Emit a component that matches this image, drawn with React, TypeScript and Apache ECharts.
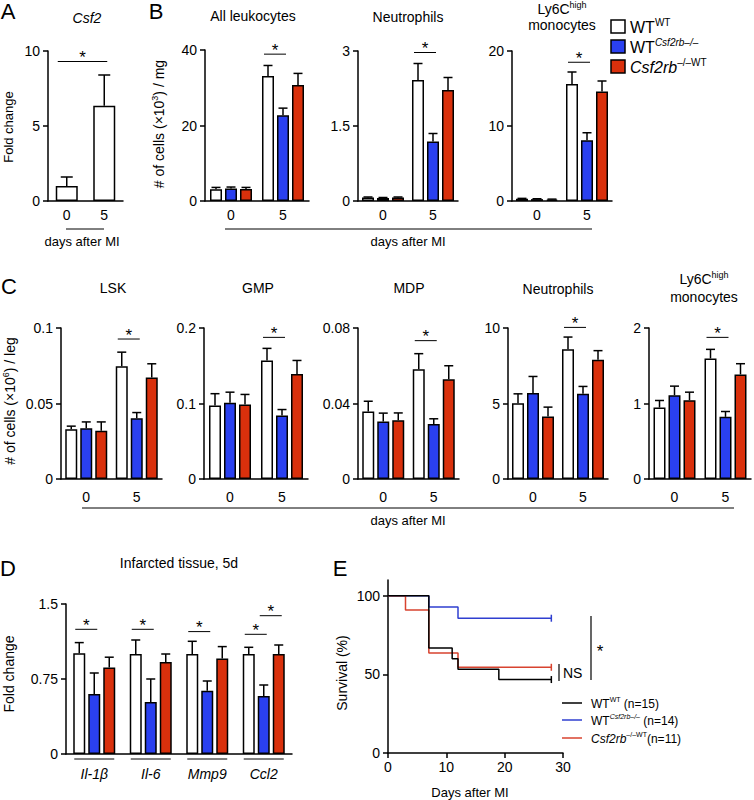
import React, { useEffect, useRef } from "react";
import * as echarts from "echarts";

const FONT = '"Liberation Sans", Arial, Helvetica, sans-serif';
const BLACK = "#000000";
const C_WT = "#ffffff";
const C_KO = "#2a40f0";
const C_REV = "#d9300c";
const L_KO = "#2f3fd0";
const L_REV = "#d8432f";

// ---------- categories ----------
const dayLabels = ["0", "5"];
const geneLabels = ["Il-1β", "Il-6", "Mmp9", "Ccl2"];

// ---------- A: Csf2 fold change ----------
const csf2Mean = [1.0, 6.35];
const csf2Err = [0.6, 2.05];

// ---------- B: infarct leukocytes (x10^3 / mg) ----------
const leukWT = [3.1, 33.1];
const leukWTErr = [0.5, 2.8];
const leukKO = [3.3, 22.7];
const leukKOErr = [0.4, 1.9];
const leukRev = [3.2, 30.7];
const leukRevErr = [0.4, 3.1];

const neutWT = [0.07, 2.42];
const neutWTErr = [0.01, 0.33];
const neutKO = [0.06, 1.19];
const neutKOErr = [0.01, 0.16];
const neutRev = [0.07, 2.22];
const neutRevErr = [0.01, 0.25];

const monoWT = [0.3, 15.6];
const monoWTErr = [0.05, 1.6];
const monoKO = [0.25, 8.1];
const monoKOErr = [0.05, 1.0];
const monoRev = [0.2, 14.6];
const monoRevErr = [0.05, 1.4];

// ---------- C: bone marrow (x10^6 / leg) ----------
const lskWT = [0.033, 0.0746];
const lskWTErr = [0.002, 0.0094];
const lskKO = [0.0336, 0.0403];
const lskKOErr = [0.0042, 0.0037];
const lskRev = [0.032, 0.0673];
const lskRevErr = [0.0058, 0.009];

const gmpWT = [0.0973, 0.157];
const gmpWTErr = [0.0157, 0.016];
const gmpKO = [0.101, 0.084];
const gmpKOErr = [0.014, 0.008];
const gmpRev = [0.0987, 0.139];
const gmpRevErr = [0.0133, 0.018];

const mdpWT = [0.0358, 0.0582];
const mdpWTErr = [0.0054, 0.0082];
const mdpKO = [0.0304, 0.0292];
const mdpKOErr = [0.0045, 0.0027];
const mdpRev = [0.0311, 0.0529];
const mdpRevErr = [0.0039, 0.0071];

const bmNeutWT = [5.02, 8.6];
const bmNeutWTErr = [0.62, 0.8];
const bmNeutKO = [5.69, 5.64];
const bmNeutKOErr = [1.1, 0.49];
const bmNeutRev = [4.14, 7.9];
const bmNeutRevErr = [0.62, 0.6];

const bmMonoWT = [0.947, 1.597];
const bmMonoWTErr = [0.093, 0.12];
const bmMonoKO = [1.11, 0.823];
const bmMonoKOErr = [0.12, 0.071];
const bmMonoRev = [1.044, 1.385];
const bmMonoRevErr = [0.106, 0.142];

// ---------- D: infarcted tissue gene expression ----------
const geneWT = [1.008, 1.0, 1.0, 1.0];
const geneWTErr = [0.106, 0.14, 0.127, 0.067];
const geneKO = [0.6, 0.52, 0.632, 0.58];
const geneKOErr = [0.21, 0.23, 0.098, 0.11];
const geneRev = [0.865, 0.92, 0.955, 1.0];
const geneRevErr = [0.103, 0.08, 0.119, 0.09];

// ---------- E: survival ----------
const survDaysWT = [0, 7, 11, 12, 19, 28];
const survPctWT = [100, 66.7, 60, 53.3, 46.7, 46.7];
const survDaysKO = [0, 7, 12, 28];
const survPctKO = [100, 92.9, 85.7, 85.7];
const survDaysRev = [0, 3, 7, 12, 28];
const survPctRev = [100, 90.9, 63.6, 54.5, 54.5];

// ---------- significance brackets [catFrom, barFrom, catTo, barTo, y] ----------
const sigA = [[0, 0, 1, 0, 9.3]];
const sigLeuk = [[1, 0, 1, 1, 38.9]];
const sigNeut = [[1, 0, 1, 1, 2.97]];
const sigMono = [[1, 0, 1, 1, 18.5]];
const sigLsk = [[1, 0, 1, 1, 0.0927]];
const sigGmp = [[1, 0, 1, 1, 0.1876]];
const sigMdp = [[1, 0, 1, 1, 0.0733]];
const sigBmNeut = [[1, 0, 1, 1, 10.04]];
const sigBmMono = [[1, 0, 1, 1, 1.876]];
const sigGene = [
  [0, 0, 0, 1, 1.247],
  [1, 0, 1, 1, 1.247],
  [2, 0, 2, 1, 1.224],
  [3, 0, 3, 1, 1.197],
  [3, 1, 3, 2, 1.383],
];

// ---------- layout ----------
const GRIDS = [
  { left: 48, top: 51, width: 75, height: 150 }, // A
  { left: 205, top: 50, width: 104, height: 151 }, // B leuk
  { left: 358, top: 51, width: 100, height: 150 }, // B neut
  { left: 512, top: 51, width: 100, height: 150 }, // B mono
  { left: 61, top: 328, width: 101, height: 151 }, // C lsk
  { left: 204, top: 328, width: 104, height: 151 }, // C gmp
  { left: 358, top: 328, width: 101, height: 151 }, // C mdp
  { left: 508, top: 328, width: 100, height: 151 }, // C neut
  { left: 649, top: 328, width: 102, height: 151 }, // C mono
  { left: 66, top: 604, width: 226, height: 150 }, // D
  { left: 388, top: 580, width: 175, height: 173 }, // E
];

const OFF3 = [-15, 0, 15];
const axisLineStyle = { color: BLACK, width: 1.5 };

function catAxis(gi: number, cats: string[], margin: number, italic = false) {
  return {
    type: "category",
    gridIndex: gi,
    data: cats,
    axisLine: { show: true, lineStyle: axisLineStyle },
    axisTick: { show: false },
    axisLabel: {
      color: BLACK,
      fontSize: 14,
      fontFamily: FONT,
      margin,
      fontStyle: italic ? "italic" : "normal",
      interval: 0,
    },
    splitLine: { show: false },
  };
}

function valAxis(gi: number, max: number, interval: number) {
  return {
    type: "value",
    gridIndex: gi,
    min: 0,
    max,
    interval,
    axisLine: { show: true, lineStyle: axisLineStyle },
    axisTick: { show: true, length: 5, lineStyle: axisLineStyle },
    axisLabel: { color: BLACK, fontSize: 14, fontFamily: FONT, margin: 8 },
    splitLine: { show: false },
  };
}

function barSeries(gi: number, data: number[], color: string, barWidth: number) {
  return {
    type: "bar",
    xAxisIndex: gi,
    yAxisIndex: gi,
    data,
    barWidth,
    barGap: "25%",
    itemStyle: { color, borderColor: BLACK, borderWidth: 1.5 },
    silent: true,
  };
}

function errRows(means: number[][], errs: number[][]) {
  const rows: number[][] = [];
  means.forEach((m, bi) => {
    m.forEach((v, ci) => rows.push([ci, bi, v, errs[bi][ci]]));
  });
  return rows;
}

function errorSeries(gi: number, rows: number[][], offsets: number[], cap: number) {
  return {
    type: "custom",
    xAxisIndex: gi,
    yAxisIndex: gi,
    data: rows,
    encode: { x: 0, y: 2 },
    z: 5,
    silent: true,
    renderItem: (_p: any, api: any) => {
      const cat = api.value(0);
      const bi = api.value(1);
      const m = api.value(2);
      const e = api.value(3);
      const b = api.coord([cat, m]);
      const t = api.coord([cat, m + e]);
      const x = b[0] + offsets[bi];
      const st = { stroke: BLACK, lineWidth: 1.5 };
      return {
        type: "group",
        children: [
          { type: "line", shape: { x1: x, y1: b[1], x2: x, y2: t[1] }, style: st },
          { type: "line", shape: { x1: x - cap, y1: t[1], x2: x + cap, y2: t[1] }, style: st },
        ],
      };
    },
  };
}

function sigSeries(gi: number, rows: number[][], offsets: number[], halfW: number) {
  return {
    type: "custom",
    xAxisIndex: gi,
    yAxisIndex: gi,
    data: rows,
    encode: { x: 0, y: 4 },
    z: 6,
    silent: true,
    renderItem: (_p: any, api: any) => {
      const a = api.coord([api.value(0), api.value(4)]);
      const b = api.coord([api.value(2), api.value(4)]);
      const x1 = a[0] + offsets[api.value(1)] - halfW + 2;
      const x2 = b[0] + offsets[api.value(3)] + 3;
      const y = a[1];
      return {
        type: "group",
        children: [
          { type: "line", shape: { x1, y1: y, x2, y2: y }, style: { stroke: BLACK, lineWidth: 1 } },
          {
            type: "text",
            x: (x1 + x2) / 2,
            y: y - 4,
            style: {
              text: "*",
              fontSize: 17,
              fontFamily: FONT,
              fill: BLACK,
              align: "center",
              verticalAlign: "middle",
            },
          },
        ],
      };
    },
  };
}

function underlineSeries(gi: number, cats: string[]) {
  return {
    type: "custom",
    xAxisIndex: gi,
    yAxisIndex: gi,
    data: cats.map((_c, i) => [i, 0]),
    encode: { x: 0, y: 1 },
    silent: true,
    renderItem: (_p: any, api: any) => {
      const p = api.coord([api.value(0), 0]);
      return {
        type: "line",
        shape: { x1: p[0] - 20, y1: p[1] + 5, x2: p[0] + 20, y2: p[1] + 5 },
        style: { stroke: BLACK, lineWidth: 1 },
      };
    },
  };
}

function threeBarPanel(
  gi: number,
  wt: number[], wtE: number[],
  ko: number[], koE: number[],
  rev: number[], revE: number[],
  sig: number[][]
) {
  return [
    barSeries(gi, wt, C_WT, 12),
    barSeries(gi, ko, C_KO, 12),
    barSeries(gi, rev, C_REV, 12),
    errorSeries(gi, errRows([wt, ko, rev], [wtE, koE, revE]), OFF3, 4.5),
    sigSeries(gi, sig, OFF3, 6),
  ];
}

function survData(days: number[], pct: number[]) {
  return days.map((d, i) =>
    i === days.length - 1
      ? { value: [d, pct[i]], symbol: "rect", symbolSize: [1.5, 7] }
      : { value: [d, pct[i]], symbol: "none" }
  );
}

// ---------- text helpers ----------
const baseRich = (size: number) => {
  const sup = Math.round(size * 0.62);
  return {
    n: { fontSize: size, fontFamily: FONT, fill: BLACK, verticalAlign: "bottom", lineHeight: size + 2 },
    i: { fontSize: size, fontFamily: FONT, fill: BLACK, fontStyle: "italic", verticalAlign: "bottom", lineHeight: size + 2 },
    s: { fontSize: sup, fontFamily: FONT, fill: BLACK, verticalAlign: "top", lineHeight: sup + 1 },
    si: { fontSize: sup, fontFamily: FONT, fill: BLACK, fontStyle: "italic", verticalAlign: "top", lineHeight: sup + 1 },
  };
};

function txt(x: number, y: number, text: string, size = 14, opts: any = {}) {
  return {
    type: "text",
    x,
    y,
    rotation: opts.rotation || 0,
    style: {
      text,
      fontSize: size,
      fontFamily: FONT,
      fontStyle: opts.italic ? "italic" : "normal",
      fill: BLACK,
      align: opts.align || "center",
      verticalAlign: "middle",
      rich: baseRich(size),
    },
  };
}

function gline(x1: number, y1: number, x2: number, y2: number, color = BLACK, w = 1) {
  return { type: "line", shape: { x1, y1, x2, y2 }, style: { stroke: color, lineWidth: w } };
}

export default function App() {
  const ref = useRef<HTMLDivElement>(null);

  useEffect(() => {
    if (!ref.current) return;
    const chart = echarts.init(ref.current, undefined, { renderer: "svg" });

    const xAxes = [
      catAxis(0, dayLabels, 7),
      catAxis(1, dayLabels, 7),
      catAxis(2, dayLabels, 7),
      catAxis(3, dayLabels, 7),
      catAxis(4, dayLabels, 11),
      catAxis(5, dayLabels, 11),
      catAxis(6, dayLabels, 11),
      catAxis(7, dayLabels, 11),
      catAxis(8, dayLabels, 11),
      catAxis(9, geneLabels, 13, true),
      {
        type: "value",
        gridIndex: 10,
        min: 0,
        max: 30,
        interval: 10,
        axisLine: { show: true, lineStyle: axisLineStyle },
        axisTick: { show: true, length: 5, lineStyle: axisLineStyle },
        axisLabel: { color: BLACK, fontSize: 14, fontFamily: FONT, margin: 7 },
        splitLine: { show: false },
      },
    ];

    const yAxes = [
      valAxis(0, 10, 5),
      valAxis(1, 40, 20),
      valAxis(2, 3, 1.5),
      valAxis(3, 20, 10),
      valAxis(4, 0.1, 0.05),
      valAxis(5, 0.2, 0.1),
      valAxis(6, 0.08, 0.04),
      valAxis(7, 10, 5),
      valAxis(8, 2, 1),
      valAxis(9, 1.5, 0.75),
      {
        type: "value",
        gridIndex: 10,
        min: 0,
        max: 110,
        axisLine: { show: true, lineStyle: axisLineStyle },
        axisTick: { show: true, length: 5, lineStyle: axisLineStyle, customValues: [0, 50, 100] },
        axisLabel: { color: BLACK, fontSize: 14, fontFamily: FONT, margin: 8, customValues: [0, 50, 100] },
        splitLine: { show: false },
      },
    ];

    const series: any[] = [
      barSeries(0, csf2Mean, C_WT, 22),
      errorSeries(0, errRows([csf2Mean], [csf2Err]), [0], 6),
      sigSeries(0, sigA, [0], 11),
      ...threeBarPanel(1, leukWT, leukWTErr, leukKO, leukKOErr, leukRev, leukRevErr, sigLeuk),
      ...threeBarPanel(2, neutWT, neutWTErr, neutKO, neutKOErr, neutRev, neutRevErr, sigNeut),
      ...threeBarPanel(3, monoWT, monoWTErr, monoKO, monoKOErr, monoRev, monoRevErr, sigMono),
      ...threeBarPanel(4, lskWT, lskWTErr, lskKO, lskKOErr, lskRev, lskRevErr, sigLsk),
      ...threeBarPanel(5, gmpWT, gmpWTErr, gmpKO, gmpKOErr, gmpRev, gmpRevErr, sigGmp),
      ...threeBarPanel(6, mdpWT, mdpWTErr, mdpKO, mdpKOErr, mdpRev, mdpRevErr, sigMdp),
      ...threeBarPanel(7, bmNeutWT, bmNeutWTErr, bmNeutKO, bmNeutKOErr, bmNeutRev, bmNeutRevErr, sigBmNeut),
      ...threeBarPanel(8, bmMonoWT, bmMonoWTErr, bmMonoKO, bmMonoKOErr, bmMonoRev, bmMonoRevErr, sigBmMono),
      ...threeBarPanel(9, geneWT, geneWTErr, geneKO, geneKOErr, geneRev, geneRevErr, sigGene),
      underlineSeries(9, geneLabels),
      {
        type: "line",
        xAxisIndex: 10,
        yAxisIndex: 10,
        step: "end",
        data: survData(survDaysKO, survPctKO),
        lineStyle: { color: L_KO, width: 1.5 },
        itemStyle: { color: L_KO },
        showSymbol: true,
        silent: true,
      },
      {
        type: "line",
        xAxisIndex: 10,
        yAxisIndex: 10,
        step: "end",
        data: survData(survDaysRev, survPctRev),
        lineStyle: { color: L_REV, width: 1.5 },
        itemStyle: { color: L_REV },
        showSymbol: true,
        silent: true,
      },
      {
        type: "line",
        xAxisIndex: 10,
        yAxisIndex: 10,
        step: "end",
        data: survData(survDaysWT, survPctWT),
        lineStyle: { color: BLACK, width: 1.5 },
        itemStyle: { color: BLACK },
        showSymbol: true,
        silent: true,
      },
    ];

    const ROT = Math.PI / 2;
    const graphic: any[] = [
      // panel letters
      txt(8, 11, "A", 22),
      txt(156, 11, "B", 22),
      txt(9, 286, "C", 22),
      txt(8, 568, "D", 22),
      txt(340, 568, "E", 22),
      // A
      txt(87, 18, "Csf2", 14, { italic: true }),
      txt(8, 127, "Fold change", 13, { rotation: ROT }),
      gline(66, 229, 104, 229),
      txt(82, 241, "days after MI", 13),
      // B titles
      txt(253, 16, "All leukocytes", 14),
      txt(408, 17, "Neutrophils", 14),
      txt(562, 8, "{n|Ly6C}{s|high}", 14),
      txt(562, 25, "monocytes", 14),
      txt(158, 124, "{n|# of cells (×10}{s|3}{n|) / mg}", 14, { rotation: ROT }),
      gline(225, 229, 592, 229),
      txt(408, 241, "days after MI", 13),
      // B legend
      { type: "rect", shape: { x: 611, y: 20, width: 14, height: 13 }, style: { fill: C_WT, stroke: BLACK, lineWidth: 1.5 } },
      { type: "rect", shape: { x: 611, y: 40, width: 14, height: 13 }, style: { fill: C_KO, stroke: BLACK, lineWidth: 1.5 } },
      { type: "rect", shape: { x: 611, y: 60, width: 14, height: 13 }, style: { fill: C_REV, stroke: BLACK, lineWidth: 1.5 } },
      txt(630, 26, "{n|WT}{s|WT}", 16, { align: "left" }),
      txt(630, 46, "{n|WT}{si|Csf2rb–/–}", 16, { align: "left" }),
      txt(630, 66, "{i|Csf2rb}{s|–/–WT}", 16, { align: "left" }),
      // C titles
      txt(113, 288, "LSK", 14),
      txt(258, 288, "GMP", 14),
      txt(409, 288, "MDP", 14),
      txt(558, 289, "Neutrophils", 14),
      txt(704, 278, "{n|Ly6C}{s|high}", 14),
      txt(704, 297, "monocytes", 14),
      txt(9, 401, "{n|# of cells (×10}{s|6}{n|) / leg}", 14, { rotation: ROT }),
      gline(82, 508, 734, 508),
      txt(408, 520, "days after MI", 13),
      // D
      txt(179, 563, "Infarcted tissue, 5d", 14),
      txt(9, 674, "Fold change", 14, { rotation: ROT }),
      // E
      txt(342, 673, "Survival (%)", 14, { rotation: ROT }),
      txt(470, 792, "Days after MI", 13),
      gline(559, 664, 559, 681, BLACK, 1.2),
      txt(563, 673, "NS", 14, { align: "left" }),
      gline(591, 616, 591, 680, BLACK, 1.2),
      txt(600, 651, "*", 17),
      gline(562, 703, 582, 703, BLACK, 1.5),
      gline(562, 720, 582, 720, L_KO, 1.5),
      gline(562, 738, 582, 738, L_REV, 1.5),
      txt(591, 703, "{n|WT}{s|WT}{n| (n=15)}", 12, { align: "left" }),
      txt(591, 720, "{n|WT}{si|Csf2rb–/–}{n| (n=14)}", 12, { align: "left" }),
      txt(591, 738, "{i|Csf2rb}{s|–/–WT}{n|(n=11)}", 12, { align: "left" }),
    ];

    chart.setOption({
      animation: false,
      backgroundColor: "#ffffff",
      grid: GRIDS.map((g) => ({ ...g, containLabel: false })),
      xAxis: xAxes,
      yAxis: yAxes,
      series,
      graphic,
    });

    return () => chart.dispose();
  }, []);

  return (
    <div
      ref={ref}
      style={{ position: "absolute", left: 0, top: 0, width: 754, height: 800, background: "#fff" }}
    />
  );
}
